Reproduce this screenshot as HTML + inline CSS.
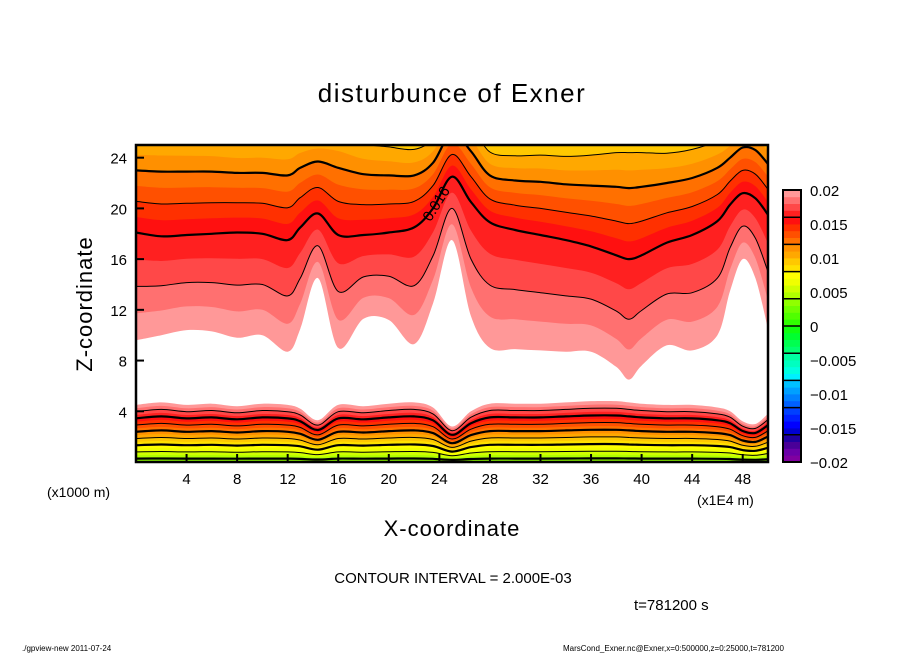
<!DOCTYPE html>
<html><head><meta charset="utf-8"><style>
body{margin:0;background:#fff;}
svg text{font-family:"Liberation Sans","DejaVu Sans",sans-serif;fill:#000;}
</style></head><body>
<svg id="c" width="904" height="654" viewBox="0 0 904 654" xmlns="http://www.w3.org/2000/svg">
<rect width="904" height="654" fill="#fff"/>
<text x="452" y="102" font-size="26" text-anchor="middle" letter-spacing="1.5">disturbunce of Exner</text>
<g id="plot"></g>
<g id="axes"></g>
<g id="cbar"></g>
<text transform="translate(92,304) rotate(-90)" font-size="22" text-anchor="middle" letter-spacing="1">Z-coordinate</text>
<text x="452" y="536" font-size="22" text-anchor="middle" letter-spacing="1">X-coordinate</text>
<text x="47" y="497" font-size="14">(x1000 m)</text>
<text x="697" y="505" font-size="14">(x1E4 m)</text>
<text x="453" y="583" font-size="15" text-anchor="middle">CONTOUR INTERVAL = 2.000E-03</text>
<text x="634" y="610" font-size="15">t=781200 s</text>
<text x="22" y="651" font-size="8">./gpview-new   2011-07-24</text>
<text x="563" y="651" font-size="8">MarsCond_Exner.nc@Exner,x=0:500000,z=0:25000,t=781200</text>
</svg>
<script>
const xs=[0,2,4,6,8,10,12,13,14.4,16,18,20,22,23.5,25,26.5,28,30,32,34,36,38,39,40,42,44,46,47,48,49,50];
const level012=[23.0,22.9,22.9,22.9,22.8,22.8,22.6,23.2,23.7,23.2,22.7,22.6,22.6,23.6,26.0,24.5,22.6,22.2,22.1,21.9,21.8,21.7,21.6,21.7,22.0,22.4,23.2,24.0,24.8,24.6,23.5];
const level016=[18.1,17.8,17.9,18.0,18.1,18.0,17.5,18.5,19.6,17.9,17.9,18.1,18.5,20.0,22.5,20.5,18.9,18.3,17.9,17.5,17.0,16.3,16.0,16.3,17.3,17.9,19.0,20.3,21.2,20.8,19.5];
const level020Upper=[9.6,10.0,10.4,10.3,9.8,10.0,8.7,10.5,14.5,9.0,11.3,11.2,9.3,12.5,17.5,11.5,9.0,8.9,8.8,8.7,8.7,7.5,6.5,7.6,9.2,8.8,10.0,13.5,16.0,14.5,10.5];
const level020Lower=[4.5,4.7,4.5,4.6,4.4,4.6,4.5,4.2,3.3,4.5,4.4,4.6,4.7,4.3,2.8,4.0,4.6,4.6,4.6,4.7,4.8,4.8,4.7,4.6,4.5,4.5,4.3,4.0,3.2,3.0,3.8];
const bottomValue=0.003;
const xTicks=[4,8,12,16,20,24,28,32,36,40,44,48];
const zTicks=[4,8,12,16,20,24];
const cbarTicks=[0.02,0.015,0.01,0.005,0,-0.005,-0.01,-0.015,-0.02];
const cbarLabels=["0.02","0.015","0.01","0.005","0","\u22120.005","\u22120.01","\u22120.015","\u22120.02"];
const palette=["#8000a0","#6a00a8","#4a0098","#2000a0","#0000d0","#0000ff","#0020ff","#0040ff","#0060ff","#0080ff","#00a0ff","#00c0ff","#00f0ff","#00ffe0","#00ffc0","#00ffa0","#00ff70","#00ff50","#00ff30","#10ff10","#30ff00","#50ff00","#70ff00","#90ff00","#b0ff00","#d0ff00","#f0ff00","#ffff00","#ffe000","#ffc800","#ffa800","#ff9000","#ff7000","#ff5000","#ff3000","#ff1010","#ff2020","#ff4848","#ff7070","#ff9898"];
const NS="http://www.w3.org/2000/svg";
const X0=136,X1=768,Y0=462,Y1=145,XMAX=50,ZMAX=25;
const sx=x=>X0+(X1-X0)*x/XMAX, sz=z=>Y0-(Y0-Y1)*z/ZMAX;
function colorFor(v){let i=Math.floor((v+0.02)/0.001+1e-9);return palette[Math.max(0,Math.min(39,i))];}
function zUpper(L,i){const A=level012[i],B=level016[i],C=level020Upper[i];
 if(L<=0.012)return A+(0.012-L)*(A-B)/0.004;
 if(L<=0.016)return A+(L-0.012)/0.004*(B-A);
 return B+(L-0.016)/0.004*(C-B);}
function zLower(L,i){return level020Lower[i]*(L-bottomValue)/(0.020-bottomValue);}
function pts(f){return xs.map((x,i)=>[sx(x),sz(Math.max(-1,Math.min(27,f(i))))]);}
function smooth(p){let d="";for(let i=0;i<p.length-1;i++){const p0=p[i-1]||p[i],p1=p[i],p2=p[i+1],p3=p[i+2]||p2;
 const c1=[p1[0]+(p2[0]-p0[0])/6,p1[1]+(p2[1]-p0[1])/6],c2=[p2[0]-(p3[0]-p1[0])/6,p2[1]-(p3[1]-p1[1])/6];
 d+=`C${c1[0].toFixed(1)},${c1[1].toFixed(1)} ${c2[0].toFixed(1)},${c2[1].toFixed(1)} ${p2[0].toFixed(1)},${p2[1].toFixed(1)}`;}return d;}
const plot=document.getElementById('plot');
const defs=document.createElementNS(NS,'defs');
defs.innerHTML=`<clipPath id="pc"><rect x="${X0}" y="${Y1}" width="${X1-X0}" height="${Y0-Y1}"/></clipPath>`;
document.getElementById('c').insertBefore(defs,plot);
plot.setAttribute('clip-path','url(#pc)');
// upper bands
for(let k=20;k>=8;k--){const L=k/1000;const p=pts(i=>zUpper(L,i));
 const path=document.createElementNS(NS,'path');
 path.setAttribute('d',`M${p[0][0]},${p[0][1]}`+smooth(p)+`L${X1},${Y1-5}L${X0},${Y1-5}Z`);
 path.setAttribute('fill',colorFor(L-0.0005));
 
 
 plot.appendChild(path);}
// lower bands
for(let k=20;k>=2;k--){const L=k/1000;const p=pts(i=>zLower(L,i));
 const path=document.createElementNS(NS,'path');
 path.setAttribute('d',`M${p[0][0]},${p[0][1]}`+smooth(p)+`L${X1},${Y0+5}L${X0},${Y0+5}Z`);
 path.setAttribute('fill',colorFor(L-0.0005));
 
 
 plot.appendChild(path);}
// contour lines
for(let k=4;k<=18;k+=2){const L=k/1000;const thick=(k%4===0);
 [['upper',zUpper],['lower',zLower]].forEach(([nm,f])=>{
  if(nm==='upper'&&k<10)return;
  const p=pts(i=>f(L,i));
  const path=document.createElementNS(NS,'path');
  path.setAttribute('d',`M${p[0][0]},${p[0][1]}`+smooth(p));
  path.setAttribute('fill','none');path.setAttribute('stroke','#000');
  path.setAttribute('stroke-width',thick?2.2:1);
  
  
  plot.appendChild(path);});}
const lbl=document.createElementNS(NS,'text');


lbl.setAttribute('transform',`translate(${sx(23.3)},${sz(18.9)}) rotate(-58)`);
lbl.setAttribute('font-size','15');lbl.setAttribute('stroke','#fff');lbl.setAttribute('stroke-width','0');
lbl.textContent='0.016';plot.appendChild(lbl);
// axes
const ax=document.getElementById('axes');
let s=`<rect x="${X0}" y="${Y1}" width="${X1-X0}" height="${Y0-Y1}" fill="none" stroke="#000" stroke-width="2.5"/>`;
ax.innerHTML=s;
xTicks.forEach(t=>{const l=document.createElementNS(NS,'line');
 l.setAttribute('x1',sx(t));l.setAttribute('x2',sx(t));l.setAttribute('y1',Y0);l.setAttribute('y2',Y0-8);
 l.setAttribute('stroke','#000');l.setAttribute('stroke-width','2');
 
 ax.appendChild(l);
 const tx=document.createElementNS(NS,'text');tx.setAttribute('x',sx(t));tx.setAttribute('y',Y0+22);
 tx.setAttribute('font-size','15');tx.setAttribute('text-anchor','middle');tx.textContent=t;
 
 ax.appendChild(tx);});
zTicks.forEach(t=>{const l=document.createElementNS(NS,'line');
 l.setAttribute('x1',X0);l.setAttribute('x2',X0+8);l.setAttribute('y1',sz(t));l.setAttribute('y2',sz(t));
 l.setAttribute('stroke','#000');l.setAttribute('stroke-width','2');
 
 ax.appendChild(l);
 const tx=document.createElementNS(NS,'text');tx.setAttribute('x',X0-9);tx.setAttribute('y',sz(t)+6);
 tx.setAttribute('font-size','15');tx.setAttribute('text-anchor','end');tx.textContent=t;
 
 ax.appendChild(tx);});
// colorbar
const cb=document.getElementById('cbar');const CX=783,CW=18,CT=190,CB=462;
const ch=(CB-CT)/40;
for(let i=0;i<40;i++){const r=document.createElementNS(NS,'rect');
 r.setAttribute('x',CX);r.setAttribute('y',CB-(i+1)*ch);r.setAttribute('width',CW);r.setAttribute('height',ch+0.4);
 r.setAttribute('fill',palette[i]);
 
 cb.appendChild(r);}
for(let i=4;i<40;i+=4){const l=document.createElementNS(NS,'line');
 l.setAttribute('x1',CX);l.setAttribute('x2',CX+CW);l.setAttribute('y1',CB-i*ch);l.setAttribute('y2',CB-i*ch);
 l.setAttribute('stroke','#000');l.setAttribute('stroke-width','1.5');
 
 cb.appendChild(l);}
const fr=document.createElementNS(NS,'rect');fr.setAttribute('x',CX);fr.setAttribute('y',CT);fr.setAttribute('width',CW);fr.setAttribute('height',CB-CT);
fr.setAttribute('fill','none');fr.setAttribute('stroke','#000');fr.setAttribute('stroke-width','2');

cb.appendChild(fr);
cbarTicks.forEach((v,j)=>{const tx=document.createElementNS(NS,'text');
 tx.setAttribute('x',CX+CW+9);tx.setAttribute('y',CB-(v+0.02)/0.04*(CB-CT)+6);
 tx.setAttribute('font-size','15');tx.textContent=cbarLabels[j];
 
 cb.appendChild(tx);});
</script>
</body></html>
